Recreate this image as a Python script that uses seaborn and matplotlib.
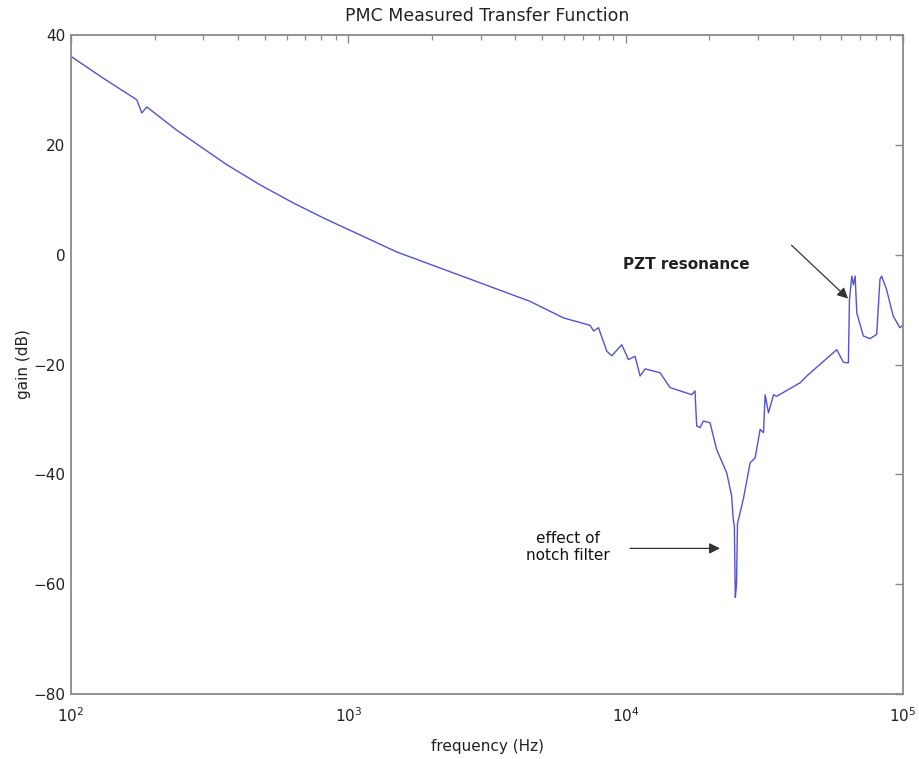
import numpy as np
import pandas as pd
import matplotlib
matplotlib.use("Agg")
import matplotlib.pyplot as plt
import seaborn as sns
from matplotlib.ticker import LogLocator, NullFormatter

# ---- data ----
freq_hz = [100, 130, 172.6, 180, 187.5, 240, 364, 481, 634, 835, 1102, 1493, 2599,
           4520, 5957, 7240, 7450, 7660, 7980, 8550, 8910, 9680, 10230, 10810,
           11270, 11750, 13300, 14450, 17300, 17780, 18030, 18540, 19050, 20140,
           21290, 23130, 24100, 24430, 24650, 24850, 25100, 25300, 26560, 28100,
           29290, 30540, 31400, 31830, 32720, 34130, 35000, 42620, 44960, 57670,
           60990, 63530, 64100, 65370, 66260, 67200, 68130, 71920, 76030, 80370,
           82580, 83730, 87300, 92190, 97460, 100000]
gain_db = [36.1, 32.2, 28.2, 25.8, 26.9, 22.7, 16.4, 12.7, 9.4, 6.4, 3.6, 0.5, -4.0,
           -8.5, -11.5, -12.7, -12.9, -13.9, -13.3, -17.6, -18.4, -16.4, -19.1, -18.5,
           -22.1, -20.8, -21.5, -24.2, -25.5, -24.8, -31.2, -31.5, -30.3, -30.6,
           -35.5, -39.7, -43.9, -48.2, -49.5, -62.4, -60.0, -49.0, -44.5, -37.9,
           -37.0, -31.8, -32.4, -25.5, -28.8, -25.5, -25.8, -23.3, -22.1, -17.3,
           -19.6, -19.7, -8.2, -3.9, -5.5, -3.9, -10.6, -14.8, -15.3, -14.5,
           -4.5, -3.9, -6.4, -11.2, -13.3, -12.8]
y_ticks = [-80, -60, -40, -20, 0, 20, 40]
x_ticks = [1e2, 1e3, 1e4, 1e5]
x_tick_labels = [r"$10^{2}$", r"$10^{3}$", r"$10^{4}$", r"$10^{5}$"]
title = "PMC Measured Transfer Function"
x_label = "frequency (Hz)"
y_label = "gain (dB)"

df = pd.DataFrame({"freq": freq_hz, "gain": gain_db})

sns.set_style("white")
plt.rcParams["font.family"] = ["DejaVu Sans"]

fig = plt.figure(figsize=(9.19, 7.59), dpi=100)
ax = fig.add_axes([0.0773, 0.0856, 0.9053, 0.8683])

sns.lineplot(data=df, x="freq", y="gain", ax=ax, color="#5252d4", lw=1.0,
             estimator=None, sort=False)

ax.set_xscale("log")
ax.set_xlim(1e2, 1e5)
ax.set_ylim(-80, 40)
ax.set_yticks(y_ticks)
ax.set_xticks(x_ticks)
ax.set_xticklabels(x_tick_labels)
ax.xaxis.set_minor_locator(LogLocator(base=10, subs=np.arange(2, 10)))
ax.xaxis.set_minor_formatter(NullFormatter())

grey = "#8a8a8a"
for s in ax.spines.values():
    s.set_visible(True)
    s.set_color(grey)
    s.set_linewidth(1.3)

ax.tick_params(which="both", direction="in", top=True, right=True, color=grey,
               labelsize=11, labelcolor="#222222")
ax.tick_params(which="major", length=6, width=1.0)
ax.tick_params(which="minor", length=3.5, width=0.9)
ax.tick_params(axis="x", which="major", pad=9)
ax.tick_params(axis="y", which="major", pad=4)

ax.set_title(title, fontsize=12.5, color="#222222", pad=10)
ax.set_xlabel(x_label, fontsize=11, color="#222222", labelpad=10)
ax.set_ylabel(y_label, fontsize=11, color="#222222", labelpad=2)

# annotations
ax.text(0.6635, 0.6525, "PZT resonance", transform=ax.transAxes,
        ha="left", va="center", fontsize=11, fontweight="bold", color="#222222")
ax.annotate("", xy=(0.934, 0.600), xycoords="axes fraction",
            xytext=(0.866, 0.681), textcoords="axes fraction",
            arrowprops=dict(arrowstyle="-|>", color="#333333", lw=0.9,
                            mutation_scale=16, shrinkA=0, shrinkB=0))

ax.text(0.597, 0.223, "effect of\nnotch filter", transform=ax.transAxes,
        ha="center", va="center", fontsize=11, color="#111111", linespacing=1.15)
ax.annotate("", xy=(0.780, 0.221), xycoords="axes fraction",
            xytext=(0.672, 0.221), textcoords="axes fraction",
            arrowprops=dict(arrowstyle="-|>", color="#333333", lw=0.9,
                            mutation_scale=16, shrinkA=0, shrinkB=0))

fig.savefig("out.png", dpi=100)
